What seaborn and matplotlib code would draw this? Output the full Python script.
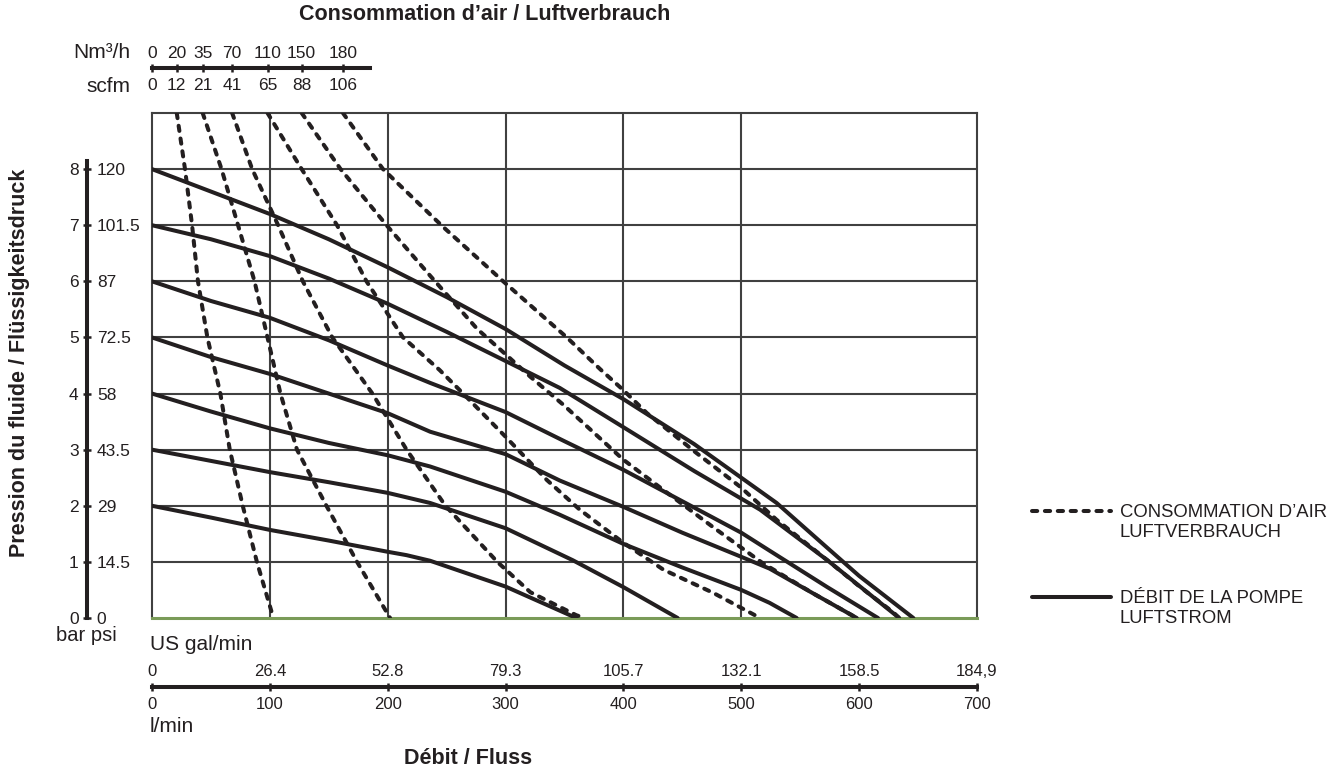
import numpy as np
import pandas as pd
import matplotlib
matplotlib.use("Agg")
import matplotlib.pyplot as plt
from matplotlib.lines import Line2D
import seaborn as sns

# ---- data (flow in l/min, pressure in bar) ----
# air consumption curves (dashed), named by Nm3/h
air20_flow = [21, 28, 34, 39, 47, 58, 66, 77, 89, 103]
air20_bar = [9, 8, 7, 6, 5, 4, 3, 2, 1, 0]
air35_flow = [43, 59, 73, 87, 98, 109, 123, 148, 174, 202]
air35_bar = [9, 8, 7, 6, 5, 4, 3, 2, 1, 0]
air70_flow = [68, 85, 107, 128, 153, 187, 216, 249, 293, 321, 360, 367]
air70_bar = [9, 8, 7, 6, 5, 4, 3, 2, 1, 0.46, 0.05, 0]
air110_flow = [98, 127, 157, 182, 213, 244, 264, 300, 335, 363, 400, 434, 476, 516]
air110_bar = [9, 8, 7, 6, 5, 4.42, 4, 3.23, 2.46, 1.93, 1.34, 0.86, 0.45, 0]
air150_flow = [127, 160, 199, 236, 276, 300, 321, 349, 400, 434, 476, 518, 560, 598]
air150_bar = [9, 8, 7, 6.1, 5.15, 4.7, 4.3, 3.8, 2.82, 2.28, 1.62, 0.98, 0.45, 0]
air180_flow = [162, 196, 247, 298, 352, 381, 400, 420, 462, 499, 530, 573, 601, 629, 634]
air180_bar = [9, 8, 6.97, 6, 5, 4.42, 4.06, 3.65, 2.94, 2.34, 1.75, 1.03, 0.55, 0.1, 0]

# pump flow curves (solid), named by air pressure
pump8_flow = [0, 50, 100, 150, 200, 250, 300, 350, 400, 460, 500, 530, 573, 600, 646]
pump8_bar = [8, 7.6, 7.2, 6.75, 6.25, 5.72, 5.15, 4.5, 3.9, 3.1, 2.5, 2.05, 1.25, 0.75, 0]
pump7_flow = [0, 50, 100, 150, 200, 250, 300, 346, 400, 460, 516, 573, 634]
pump7_bar = [7, 6.75, 6.45, 6.05, 5.6, 5.1, 4.58, 4.1, 3.4, 2.62, 1.93, 1.03, 0]
pump6_flow = [0, 50, 100, 150, 200, 236, 300, 350, 400, 450, 500, 524, 573, 616]
pump6_bar = [6, 5.65, 5.35, 4.95, 4.5, 4.19, 3.67, 3.15, 2.64, 2.08, 1.52, 1.2, 0.55, 0]
pump5_flow = [0, 50, 100, 150, 200, 236, 300, 346, 400, 450, 500, 524, 560, 598]
pump5_bar = [5, 4.65, 4.35, 4.0, 3.65, 3.32, 2.92, 2.45, 1.98, 1.52, 1.09, 0.88, 0.45, 0]
pump4_flow = [0, 50, 100, 150, 200, 236, 300, 346, 400, 450, 500, 524, 547]
pump4_bar = [4, 3.68, 3.38, 3.12, 2.9, 2.7, 2.25, 1.84, 1.32, 0.9, 0.5, 0.27, 0]
pump3_flow = [0, 50, 100, 150, 200, 236, 300, 357, 400, 446]
pump3_bar = [3, 2.8, 2.6, 2.42, 2.23, 2.05, 1.6, 1.03, 0.55, 0]
pump2_flow = [0, 50, 100, 150, 200, 216, 236, 300, 360]
pump2_bar = [2, 1.79, 1.57, 1.38, 1.18, 1.12, 1.02, 0.56, 0]

# scales
bar_ticks = [0, 1, 2, 3, 4, 5, 6, 7, 8]
psi_labels = ["0", "14.5", "29", "43.5", "58", "72.5", "87", "101.5", "120"]
lmin_ticks = [0, 100, 200, 300, 400, 500, 600, 700]
gal_labels = ["0", "26.4", "52.8", "79.3", "105.7", "132.1", "158.5", "184,9"]
nm3h_labels = ["0", "20", "35", "70", "110", "150", "180"]
scfm_labels = ["0", "12", "21", "41", "65", "88", "106"]

air_curves = [("20", air20_flow, air20_bar), ("35", air35_flow, air35_bar),
              ("70", air70_flow, air70_bar), ("110", air110_flow, air110_bar),
              ("150", air150_flow, air150_bar), ("180", air180_flow, air180_bar)]
pump_curves = [("8", pump8_flow, pump8_bar), ("7", pump7_flow, pump7_bar),
               ("6", pump6_flow, pump6_bar), ("5", pump5_flow, pump5_bar),
               ("4", pump4_flow, pump4_bar), ("3", pump3_flow, pump3_bar),
               ("2", pump2_flow, pump2_bar)]

rows = []
for name, fl, pr in air_curves:
	for f, p in zip(fl, pr):
		rows.append(dict(flow=f, bar=p, curve="air" + name, kind="air"))
for name, fl, pr in pump_curves:
	for f, p in zip(fl, pr):
		rows.append(dict(flow=f, bar=p, curve="pump" + name, kind="pump"))
df = pd.DataFrame(rows)

sns.set_style("white")
plt.rcParams.update({
	"font.family": ["Liberation Sans", "DejaVu Sans"],
	"lines.dash_capstyle": "round",
	"lines.solid_capstyle": "round",
})

W, H = 1343, 771
def fx(px):
	return px / W
def fy(py):
	return 1 - py / H

ink = "#231f20"
gridc = "#404040"
lw_curve = 2.9

fig = plt.figure(figsize=(W / 100, H / 100), dpi=100)

# main plot area
ax = fig.add_axes([fx(152), fy(618), fx(977) - fx(152), fy(113) - fy(618)])
sns.lineplot(data=df, x="flow", y="bar", units="curve", estimator=None, sort=False,
	style="kind", dashes={"air": (1.3, 1.9), "pump": ""}, color=ink,
	linewidth=lw_curve, legend=False, ax=ax, zorder=3)
ax.set_xlim(0, 700)
ax.set_ylim(0, 9)
ax.set_xticks([100, 200, 300, 400, 500])
ax.set_yticks(bar_ticks[1:])
ax.tick_params(length=0, labelbottom=False, labelleft=False)
ax.grid(True, color=gridc, linewidth=1.5)
ax.set_axisbelow(True)
ax.set_xlabel("")
ax.set_ylabel("")
for s in ["left", "top", "right"]:
	ax.spines[s].set_color(gridc)
	ax.spines[s].set_linewidth(1.5)
ax.spines["bottom"].set_color("#7a9b58")
ax.spines["bottom"].set_linewidth(2.2)

# pressure scale on the left (bar / psi)
ax_p = fig.add_axes([fx(87), fy(618), 1e-4, fy(113) - fy(618)])
ax_p.set_ylim(0, 9)
ax_p.patch.set_visible(False)
for s in ["top", "right", "bottom"]:
	ax_p.spines[s].set_visible(False)
ax_p.spines["left"].set_bounds(0, 8.15)
ax_p.spines["left"].set_linewidth(2.9)
ax_p.spines["left"].set_color(ink)
ax_p.set_xticks([])
ax_p.set_yticks(bar_ticks)
ax_p.set_yticklabels([str(b) for b in bar_ticks])
ax_p.tick_params(axis="y", direction="inout", length=6, width=1.8, color=ink, pad=3,
	labelsize=12.5, labelcolor=ink)
ax_p2 = ax_p.twinx()
ax_p2.set_ylim(0, 9)
for s in ax_p2.spines.values():
	s.set_visible(False)
ax_p2.set_yticks(bar_ticks)
ax_p2.set_yticklabels(psi_labels)
ax_p2.tick_params(axis="y", length=0, pad=7, labelsize=12.5, labelcolor=ink)

# air consumption scale on top (Nm3/h / scfm)
air_pos = [0] + [c[1][0] for c in air_curves]
ax_air = fig.add_axes([fx(152), fy(68), fx(977) - fx(152), 1e-4])
ax_air.set_xlim(0, 700)
ax_air.patch.set_visible(False)
for s in ["top", "right", "left"]:
	ax_air.spines[s].set_visible(False)
ax_air.spines["bottom"].set_bounds(0, 185)
ax_air.spines["bottom"].set_linewidth(2.9)
ax_air.spines["bottom"].set_color(ink)
ax_air.set_yticks([])
ax_air.set_xticks(air_pos)
ax_air.set_xticklabels(scfm_labels)
ax_air.tick_params(axis="x", direction="inout", length=6, width=1.8, color=ink, pad=4.5,
	labelsize=12.5, labelcolor=ink)
ax_air2 = ax_air.twiny()
ax_air2.set_xlim(0, 700)
for s in ax_air2.spines.values():
	s.set_visible(False)
ax_air2.set_xticks(air_pos)
ax_air2.set_xticklabels(nm3h_labels)
ax_air2.tick_params(axis="x", length=0, pad=5, labelsize=12.5, labelcolor=ink)

# flow scale at the bottom (l/min / US gal/min)
ax_q = fig.add_axes([fx(152), fy(687), fx(977) - fx(152), 1e-4])
ax_q.set_xlim(0, 700)
ax_q.patch.set_visible(False)
for s in ["top", "right", "left"]:
	ax_q.spines[s].set_visible(False)
ax_q.spines["bottom"].set_linewidth(2.9)
ax_q.spines["bottom"].set_color(ink)
ax_q.set_yticks([])
ax_q.set_xticks(lmin_ticks)
ax_q.set_xticklabels([str(v) for v in lmin_ticks])
ax_q.tick_params(axis="x", direction="inout", length=6, width=1.8, color=ink, pad=4.5,
	labelsize=12, labelcolor=ink)
ax_q2 = ax_q.twiny()
ax_q2.set_xlim(0, 700)
for s in ax_q2.spines.values():
	s.set_visible(False)
ax_q2.set_xticks(lmin_ticks)
ax_q2.set_xticklabels(gal_labels)
ax_q2.tick_params(axis="x", length=0, pad=5.5, labelsize=12, labelcolor=ink)

# texts
bold = dict(fontsize=15.5, fontweight="bold", color=ink)
fig.text(fx(485), fy(15), "Consommation d’air / Luftverbrauch", ha="center", va="center", **bold)
fig.text(fx(20), fy(363), "Pression du fluide / Flüssigkeitsdruck", ha="center", va="center",
	rotation=90, **bold)
fig.text(fx(468), fy(758), "Débit / Fluss", ha="center", va="center", **bold)
fig.text(fx(130), fy(52), "Nm³/h", ha="right", va="center", fontsize=15, color=ink)
fig.text(fx(130), fy(87), "scfm", ha="right", va="center", fontsize=15, color=ink)
fig.text(fx(150), fy(645), "US gal/min", ha="left", va="center", fontsize=15, color=ink)
fig.text(fx(150), fy(727), "l/min", ha="left", va="center", fontsize=15, color=ink)
fig.text(fx(86), fy(626), "bar psi", ha="center", va="top", fontsize=14.5, color=ink)

# legend
dash_h = Line2D([], [], color=ink, linewidth=lw_curve, dashes=(1.3, 1.9), dash_capstyle="round")
solid_h = Line2D([], [], color=ink, linewidth=lw_curve)
blank_h = Line2D([], [], linestyle="none")
leg_kw = dict(loc="upper left", frameon=False, borderpad=0, borderaxespad=0,
	handlelength=4.3, handletextpad=0.45, labelspacing=0.15,
	prop=dict(size=13.3), labelcolor=ink)
fig.legend([dash_h, blank_h], ["CONSOMMATION D’AIR", "LUFTVERBRAUCH"],
	bbox_to_anchor=(fx(1032), fy(504)), **leg_kw)
fig.legend([solid_h, blank_h], ["DÉBIT DE LA POMPE", "LUFTSTROM"],
	bbox_to_anchor=(fx(1032), fy(590)), **leg_kw)

plt.savefig("out.png", dpi=100)
